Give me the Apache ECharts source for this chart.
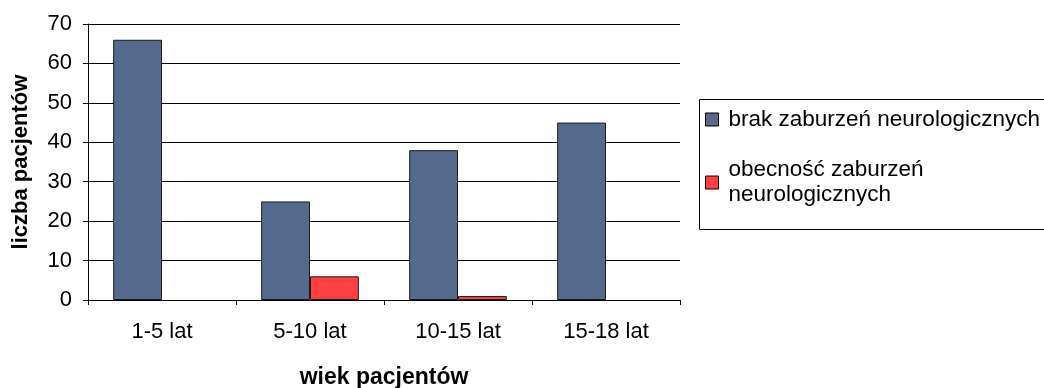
<!DOCTYPE html>
<html>
<head>
<meta charset="utf-8">
<script src="https://cdn.jsdelivr.net/npm/echarts@6/dist/echarts.min.js"></script>
<style>
  html, body { margin: 0; padding: 0; background: #fff; overflow: hidden; }
  #chart { width: 1044px; height: 388px; }
</style>
</head>
<body>
<div id="chart"></div>
<script>
// Age groups and patient counts
const categories = ['1-5 lat', '5-10 lat', '10-15 lat', '15-18 lat'];
const seriesNames = ['brak zaburzeń neurologicznych', 'obecność zaburzeń neurologicznych'];
const brakValues = [66, 25, 38, 45];
const obecnoscValues = [0, 6, 1, 0];
const yTicks = { min: 0, max: 70, interval: 10 };

const FONT = '"Liberation Sans", Arial, sans-serif';

// empty groups are left blank instead of drawing a flat outline
const asBars = values => values.map(v => (v === 0 ? '-' : v));

const chart = echarts.init(document.getElementById('chart'), null, { renderer: 'canvas' });

chart.setOption({
  animation: false,
  backgroundColor: '#ffffff',
  textStyle: { fontFamily: FONT },
  grid: { left: 88, right: 364, top: 24, bottom: 88, containLabel: false, outerBoundsMode: 'none' },
  // legend frame, running past the right edge of the canvas
  graphic: [{
    type: 'rect',
    left: 697,
    top: 97,
    shape: { width: 420, height: 130 },
    style: { fill: 'none', stroke: '#000', lineWidth: 1 },
    silent: true,
    z: 1
  }],
  legend: {
    orient: 'vertical',
    left: 697,
    top: 97,
    padding: [10, 12, 7, 8],
    itemGap: 13,
    itemWidth: 13,
    itemHeight: 13,
    icon: 'rect',
    itemStyle: { borderColor: '#000', borderWidth: 1 },
    textStyle: { fontFamily: FONT, fontSize: 22.5, color: '#000', lineHeight: 25, padding: [0, 0, 0, 5] },
    formatter: function (name) {
      return name === seriesNames[1] ? 'obecność zaburzeń\nneurologicznych' : name;
    },
    data: [
      { name: seriesNames[0] },
      { name: seriesNames[1], textStyle: { padding: [25, 0, 0, 5] } }
    ]
  },
  xAxis: {
    type: 'category',
    data: categories,
    name: 'wiek pacjentów',
    nameLocation: 'middle',
    nameGap: 78,
    nameTextStyle: { fontFamily: FONT, fontSize: 23, fontWeight: 'bold', color: '#000', verticalAlign: 'middle' },
    axisLine: { lineStyle: { color: '#000', width: 1 } },
    axisTick: { show: true, length: 5, lineStyle: { color: '#000' } },
    axisLabel: { fontFamily: FONT, fontSize: 22, color: '#000', margin: 21 },
    splitLine: { show: false }
  },
  yAxis: {
    type: 'value',
    min: yTicks.min,
    max: yTicks.max,
    interval: yTicks.interval,
    name: 'liczba pacjentów',
    nameLocation: 'middle',
    nameGap: 67,
    nameRotate: 90,
    nameTextStyle: { fontFamily: FONT, fontSize: 22, fontWeight: 'bold', color: '#000', verticalAlign: 'middle' },
    axisLine: { show: true, lineStyle: { color: '#000', width: 1 } },
    axisTick: { show: true, length: 5, lineStyle: { color: '#000' } },
    axisLabel: { fontFamily: FONT, fontSize: 22, color: '#000', margin: 16 },
    splitLine: { show: true, lineStyle: { color: '#000', width: 1 } }
  },
  series: [
    {
      name: seriesNames[0],
      type: 'bar',
      data: asBars(brakValues),
      barGap: '0%',
      barCategoryGap: '34%',
      itemStyle: { color: '#536A8C', borderColor: '#1a1a1a', borderWidth: 1 }
    },
    {
      name: seriesNames[1],
      type: 'bar',
      data: asBars(obecnoscValues),
      barGap: '0%',
      barCategoryGap: '34%',
      itemStyle: { color: '#FF4040', borderColor: '#1a1a1a', borderWidth: 1 }
    }
  ]
});
</script>
</body>
</html>
